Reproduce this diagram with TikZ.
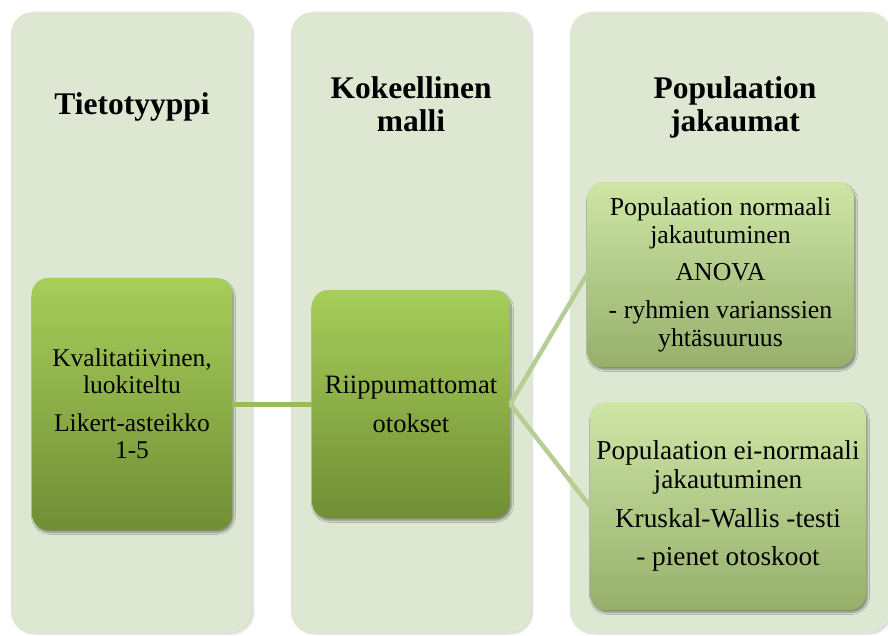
\documentclass[tikz,border=0pt]{standalone}
\usepackage{fontspec}
\setmainfont{LiberationSerif}[Extension=.ttf, UprightFont=*-Regular,
  BoldFont=*-Bold, ItalicFont=*-Italic, BoldItalicFont=*-BoldItalic]
\usetikzlibrary{shadows.blur}

\definecolor{panelfill}{RGB}{221,231,209}
\definecolor{darkTop}{RGB}{166,206,90}
\definecolor{darkMid}{RGB}{146,186,72}
\definecolor{darkBot}{RGB}{113,142,53}
\definecolor{lightTop}{RGB}{206,229,166}
\definecolor{lightMid}{RGB}{182,208,140}
\definecolor{lightBot}{RGB}{150,176,108}
\definecolor{linkDark}{RGB}{152,188,92}
\definecolor{linkLight}{RGB}{182,206,148}

\begin{document}
\begin{tikzpicture}[x=1pt,y=1pt,
  panel/.style={rounded corners=22pt, fill=panelfill, inner sep=0pt,
    blur shadow={shadow xshift=1.5pt, shadow yshift=-1pt,
      shadow opacity=18, shadow blur steps=4}},
  heading/.style={font=\fontsize{31.5}{33}\selectfont\bfseries,
    align=center, inner sep=0pt, anchor=base},
  stepbox/.style={rounded corners=16pt, inner sep=2pt, align=center,
    blur shadow={shadow xshift=1.5pt, shadow yshift=-2.5pt,
      shadow opacity=40, shadow blur steps=5}},
  darkbox/.style={stepbox, top color=darkTop, middle color=darkMid,
    bottom color=darkBot, font=\fontsize{25.5}{26.5}\selectfont},
  lightbox/.style={stepbox, top color=lightTop, middle color=lightMid,
    bottom color=lightBot},
  link/.style={line width=5pt},
]
\useasboundingbox (0,0) rectangle (888,635);

% column panels
\node[panel, minimum width=241pt, minimum height=621pt] (p1) at (131.5,312.5) {};
\node[panel, minimum width=240pt, minimum height=621pt] (p2) at (411,312.5) {};
\node[panel, minimum width=320pt, minimum height=621pt] (p3) at (730,312.5) {};

% column headings (base anchor sits on the last line)
\node[heading] (t1) at (132,520) {Tietotyyppi};
\node[heading] (t2) at (411,503) {Kokeellinen\\malli};
\node[heading] (t3) at (735,503) {Populaation\\jakaumat};

% boxes
\node[darkbox, minimum width=200pt, minimum height=252pt] (a) at (132,231)
  {Kvalitatiivinen,\\luokiteltu\\[12pt]Likert-asteikko\\1-5};
\node[darkbox, minimum width=198pt, minimum height=228pt,
  font=\fontsize{26.5}{27}\selectfont] (b) at (411,231)
  {Riippumattomat\\[12pt]otokset};
\node[lightbox, minimum width=267pt, minimum height=185pt,
  font=\fontsize{25.8}{28}\selectfont] (c) at (720.5,360.5)
  {Populaation normaali\\jakautuminen\\[9pt]ANOVA\\[10pt]- ryhmien varianssien\\yhtäsuuruus};
\node[lightbox, minimum width=276pt, minimum height=208pt,
  font=\fontsize{27.3}{29.5}\selectfont] (d) at (728,129)
  {Populaation ei-normaali\\jakautuminen\\[9pt]Kruskal-Wallis -testi\\[9pt]- pienet otoskoot};

% connectors
\draw[link, linkDark] (a.east) -- (b.west);
\draw[link, linkLight, line width=4.5pt] (b.east) -- (c.west);
\draw[link, linkLight, line width=4.5pt] (b.east) -- (d.west);
\end{tikzpicture}
\end{document}
